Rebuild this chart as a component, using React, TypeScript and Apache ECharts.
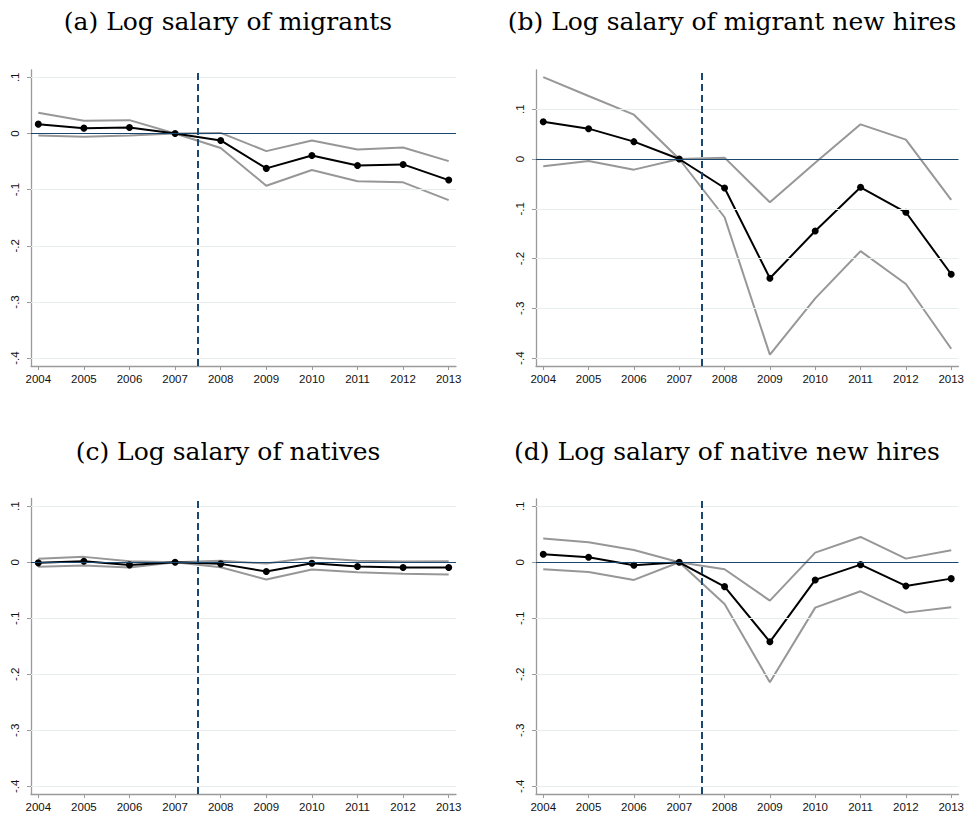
import React, { useEffect, useRef } from "react";
import * as echarts from "echarts";

const years = [2004, 2005, 2006, 2007, 2008, 2009, 2010, 2011, 2012, 2013];
const yTicks = [-0.4, -0.3, -0.2, -0.1, 0, 0.1];
const treatmentLine = 2007.5;

const titles = [
  "(a) Log salary of migrants",
  "(b) Log salary of migrant new hires",
  "(c) Log salary of natives",
  "(d) Log salary of native new hires",
];

// (a) migrants
const migrantsEst = [0.0166, 0.0095, 0.0107, 0, -0.0124, -0.0622, -0.0391, -0.0569, -0.0551, -0.083];
const migrantsUpper = [0.0368, 0.0225, 0.0237, 0, 0.001, -0.0314, -0.0124, -0.0285, -0.0249, -0.0492];
const migrantsLower = [-0.0036, -0.006, -0.0036, 0, -0.026, -0.093, -0.065, -0.085, -0.087, -0.1186];

// (b) migrant new hires
const migrantHiresEst = [0.0749, 0.0609, 0.0348, 0, -0.0582, -0.2395, -0.1445, -0.0569, -0.107, -0.2314];
const migrantHiresUpper = [0.1645, 0.1264, 0.089, 0, 0.0027, -0.087, -0.0074, 0.0696, 0.0388, -0.0823];
const migrantHiresLower = [-0.0147, -0.004, -0.0214, 0, -0.117, -0.393, -0.28, -0.185, -0.251, -0.381];

// (c) natives
const nativesEst = [-0.0012, 0.0018, -0.0048, 0, -0.003, -0.0166, -0.0018, -0.0077, -0.0095, -0.0095];
const nativesUpper = [0.006, 0.0095, 0.0018, 0, 0.0024, -0.0024, 0.0083, 0.0024, 0.0012, 0.0018];
const nativesLower = [-0.0083, -0.006, -0.0095, 0, -0.0089, -0.031, -0.013, -0.0178, -0.0208, -0.022];

// (d) native new hires
const nativeHiresEst = [0.0143, 0.0089, -0.0054, 0, -0.0435, -0.142, -0.0315, -0.0042, -0.0423, -0.0292];
const nativeHiresUpper = [0.0423, 0.0357, 0.022, 0, -0.0125, -0.0685, 0.0173, 0.0452, 0.0065, 0.0214];
const nativeHiresLower = [-0.0125, -0.0173, -0.0315, 0, -0.0744, -0.2143, -0.081, -0.0518, -0.0899, -0.0804];

const panelData = [
  { est: migrantsEst, upper: migrantsUpper, lower: migrantsLower },
  { est: migrantHiresEst, upper: migrantHiresUpper, lower: migrantHiresLower },
  { est: nativesEst, upper: nativesUpper, lower: nativesLower },
  { est: nativeHiresEst, upper: nativeHiresUpper, lower: nativeHiresLower },
];

const layout = [
  { grid: { left: 31, top: 70, width: 425, height: 296 }, yMin: -0.414, yMax: 0.113, title: [228, 21] },
  { grid: { left: 536, top: 70, width: 424, height: 296 }, yMin: -0.4157, yMax: 0.1787, title: [732, 21] },
  { grid: { left: 31, top: 498.5, width: 425, height: 295.5 }, yMin: -0.4138, yMax: 0.1137, title: [228, 451] },
  { grid: { left: 536, top: 499, width: 424, height: 295 }, yMin: -0.4138, yMax: 0.113, title: [727, 451] },
];

const fmtY = (v: number) => {
  if (Math.abs(v) < 1e-9) return "0";
  const s = String(Math.abs(Math.round(v * 10) / 10)).replace(/^0/, "");
  return (v < 0 ? "-" : "") + s;
};

const AXIS_COLOR = "#9a9a9a";
const GRID_COLOR = "#e6eeef";
const NAVY = "#1a476f";
const CI_COLOR = "#979797";

export default function App() {
  const ref = useRef<HTMLDivElement>(null);
  useEffect(() => {
    if (!ref.current) return;
    const chart = echarts.init(ref.current, undefined, { renderer: "svg" });
    const grids: any[] = [];
    const xAxes: any[] = [];
    const yAxes: any[] = [];
    const series: any[] = [];
    const graphics: any[] = [];

    layout.forEach((p, i) => {
      grids.push({ ...p.grid, containLabel: false });
      xAxes.push({
        type: "value",
        gridIndex: i,
        min: 2003.84,
        max: 2013.16,
        splitLine: { show: false },
        axisLine: { show: true, onZero: false, lineStyle: { color: AXIS_COLOR, width: 1.3 } },
        axisTick: { show: true, length: 4, customValues: years, lineStyle: { color: AXIS_COLOR } },
        axisLabel: {
          customValues: years,
          margin: 7,
          fontFamily: "'Liberation Sans', Arial, sans-serif",
          fontSize: 11.5,
          color: "#111",
          formatter: (v: number) => String(Math.round(v)),
        },
      });
      yAxes.push({
        type: "value",
        gridIndex: i,
        min: p.yMin,
        max: p.yMax,
        splitLine: { show: false },
        axisLine: { show: true, onZero: false, lineStyle: { color: AXIS_COLOR, width: 1.3 } },
        axisTick: { show: true, length: 4, customValues: yTicks, lineStyle: { color: AXIS_COLOR } },
        axisLabel: {
          customValues: yTicks,
          rotate: 90,
          margin: 10,
          fontFamily: "'Liberation Sans', Arial, sans-serif",
          fontSize: 11.5,
          color: "#111",
          formatter: fmtY,
        },
      });
      const d = panelData[i];
      // gridlines + zero line carrier
      series.push({
        type: "line",
        xAxisIndex: i,
        yAxisIndex: i,
        data: years.map((y, k) => [y, d.est[k]]),
        showSymbol: false,
        symbol: "none",
        lineStyle: { opacity: 0 },
        silent: true,
        z: 1,
        markLine: {
          silent: true,
          symbol: ["none", "none"],
          label: { show: false },
          data: [
            ...yTicks.filter((v) => v !== 0).map((v) => ({ yAxis: v, lineStyle: { color: GRID_COLOR, width: 1, type: "solid" } })),
            { yAxis: 0, lineStyle: { color: NAVY, width: 1.2, type: "solid" } },
          ],
        },
      });
      series.push({
        type: "line",
        xAxisIndex: i,
        yAxisIndex: i,
        data: years.map((y, k) => [y, d.lower[k]]),
        symbol: "none",
        lineStyle: { color: CI_COLOR, width: 2 },
        z: 2,
      });
      series.push({
        type: "line",
        xAxisIndex: i,
        yAxisIndex: i,
        data: years.map((y, k) => [y, d.upper[k]]),
        symbol: "none",
        lineStyle: { color: CI_COLOR, width: 2 },
        z: 2,
      });
      // dashed vertical line carrier
      series.push({
        type: "line",
        xAxisIndex: i,
        yAxisIndex: i,
        data: years.map((y, k) => [y, d.est[k]]),
        symbol: "none",
        lineStyle: { opacity: 0 },
        silent: true,
        z: 3,
        markLine: {
          silent: true,
          symbol: ["none", "none"],
          label: { show: false },
          data: [{ xAxis: treatmentLine }],
          lineStyle: { color: NAVY, width: 2, type: [7, 4] },
        },
      });
      series.push({
        type: "line",
        xAxisIndex: i,
        yAxisIndex: i,
        data: years.map((y, k) => [y, d.est[k]]),
        symbol: "circle",
        symbolSize: 7,
        showSymbol: true,
        itemStyle: { color: "#000" },
        lineStyle: { color: "#000", width: 2 },
        z: 4,
      });
      graphics.push({
        type: "text",
        x: p.title[0],
        y: p.title[1],
        style: {
          text: titles[i],
          font: "25px 'DejaVu Serif', serif",
          fill: "#000",
          textAlign: "center",
          textVerticalAlign: "middle",
        },
      });
    });

    chart.setOption({
      animation: false,
      backgroundColor: "#fff",
      grid: grids,
      xAxis: xAxes,
      yAxis: yAxes,
      series,
      graphic: graphics,
    });
    return () => chart.dispose();
  }, []);
  return (
    <div
      ref={ref}
      style={{ position: "fixed", left: 0, top: 0, width: 967, height: 817, background: "#fff" }}
    />
  );
}
